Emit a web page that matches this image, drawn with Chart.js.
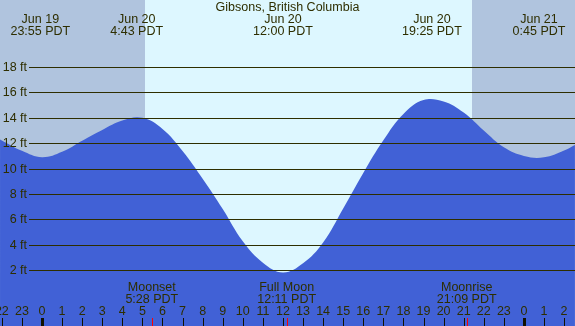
<!DOCTYPE html>
<html>
<head>
<meta charset="utf-8">
<script src="https://cdn.jsdelivr.net/npm/chart.js@4/dist/chart.umd.min.js"></script>
<style>
html,body{margin:0;padding:0;background:#fff;}
#wrap{width:575px;height:326px;}
canvas{display:block;}
</style>
</head>
<body>
<div id="wrap"><canvas id="c" width="575" height="326"></canvas></div>
<script>
// ---- data (hours relative to Jun 20 00:00 PDT) ----
const titleText = 'Gibsons, British Columbia';
const tideHours   = [-2.09, -1, 0, 1, 2, 3, 4, 5, 6, 7, 8, 9, 10, 11, 12, 13, 14, 15, 16, 17, 18, 19, 20, 21, 22, 23, 24, 25, 26, 26.54];
const tideHeights = [12.3, 11.4, 10.9, 11.33, 12.2, 13.05, 13.79, 14.0, 13.12, 11.38, 9.2, 6.82, 4.28, 2.6, 1.83, 2.55, 4.19, 6.86, 9.66, 12.23, 14.3, 15.4, 15.28, 14.41, 13.0, 11.68, 11.0, 10.89, 11.43, 11.86];
const tideEventHours = [-0.083, 4.717, 12.0, 19.417, 24.75];
const tideEventDates = ['Jun 19', 'Jun 20', 'Jun 20', 'Jun 20', 'Jun 21'];
const tideEventTimes = ['23:55 PDT', '4:43 PDT', '12:00 PDT', '19:25 PDT', '0:45 PDT'];
const daylight = [5.13, 21.41];
const moonHours = [5.467, 12.183, 21.15];
const moonNames = ['Moonset', 'Full Moon', 'Moonrise'];
const moonTimes = ['5:28 PDT', '12:11 PDT', '21:09 PDT'];
const hourTicks  = [-2,-1,0,1,2,3,4,5,6,7,8,9,10,11,12,13,14,15,16,17,18,19,20,21,22,23,24,25,26];
const hourLabels = ['22','23','0','1','2','3','4','5','6','7','8','9','10','11','12','13','14','15','16','17','18','19','20','21','22','23','0','1','2'];
const midnightHours = [0, 24];
const yTicks  = [2,4,6,8,10,12,14,16,18];
const yLabels = ['2 ft','4 ft','6 ft','8 ft','10 ft','12 ft','14 ft','16 ft','18 ft'];

const TXT = '#2E2E00';
const FONT = '12.5px "Liberation Sans", Arial, sans-serif';

const decor = {
  id: 'decor',
  beforeDatasetsDraw(chart) {
    const {ctx, chartArea: a, scales: {x}} = chart;
    ctx.save();
    const x0 = x.getPixelForValue(daylight[0]);
    const x1 = x.getPixelForValue(daylight[1]);
    ctx.fillStyle = '#B0C4DE';
    ctx.fillRect(a.left, a.top, x0 - a.left, a.bottom - a.top);
    ctx.fillRect(x1, a.top, a.right - x1, a.bottom - a.top);
    ctx.fillStyle = '#DDF7FF';
    ctx.fillRect(x0, a.top, x1 - x0, a.bottom - a.top);
    ctx.restore();
  },
  afterDatasetsDraw(chart) {
    const {ctx, chartArea: a, scales: {x, y}} = chart;
    ctx.save();
    ctx.strokeStyle = TXT;
    ctx.lineWidth = 1;
    ctx.font = FONT;
    ctx.fillStyle = TXT;
    ctx.textBaseline = 'middle';
    yTicks.forEach((v, i) => {
      const py = Math.round(y.getPixelForValue(v)) + 0.5;
      ctx.beginPath();
      ctx.moveTo(29, py);
      ctx.lineTo(a.right, py);
      ctx.stroke();
      ctx.textAlign = 'right';
      ctx.fillText(yLabels[i], 27, py);
    });
    ctx.textAlign = 'center';
    ctx.fillText(titleText, (a.left + a.right) / 2, 7.5);
    tideEventHours.forEach((h, i) => {
      const px = x.getPixelForValue(h);
      ctx.fillText(tideEventDates[i], px, 19.5);
      ctx.fillText(tideEventTimes[i], px, 32);
    });
    moonHours.forEach((h, i) => {
      const px = x.getPixelForValue(h);
      ctx.fillText(moonNames[i], px, 287.5);
      ctx.fillText(moonTimes[i], px, 299.5);
    });
    hourTicks.forEach((h, i) => {
      const px = x.getPixelForValue(h);
      ctx.fillStyle = TXT;
      ctx.fillText(hourLabels[i], px, 312);
      ctx.fillStyle = '#111100';
      if (midnightHours.includes(h)) {
        ctx.fillRect(Math.round(px) - 1, 318, 3, a.bottom - 318);
      } else {
        ctx.fillRect(Math.round(px), 318, 1, a.bottom - 318);
      }
    });
    ctx.fillStyle = '#FF0000';
    moonHours.forEach(h => {
      const px = Math.round(x.getPixelForValue(h));
      ctx.fillRect(px, 318, 1, a.bottom - 318);
    });
    ctx.restore();
  }
};

new Chart(document.getElementById('c'), {
  type: 'line',
  data: {
    datasets: [{
      data: tideHours.map((h, i) => ({x: h, y: tideHeights[i]})),
      fill: 'start',
      backgroundColor: '#4161D6',
      borderWidth: 0,
      borderColor: 'rgba(0,0,0,0)',
      pointRadius: 0,
      tension: 0.4
    }]
  },
  options: {
    responsive: false,
    devicePixelRatio: 1,
    animation: false,
    layout: {padding: 0, autoPadding: false},
    plugins: {legend: {display: false}, tooltip: {enabled: false}, title: {display: false}},
    scales: {
      x: {type: 'linear', min: -2.092, max: 26.544, display: false},
      y: {type: 'linear', min: -2.38, max: 23.27, display: false}
    }
  },
  plugins: [decor]
});
</script>
</body>
</html>
